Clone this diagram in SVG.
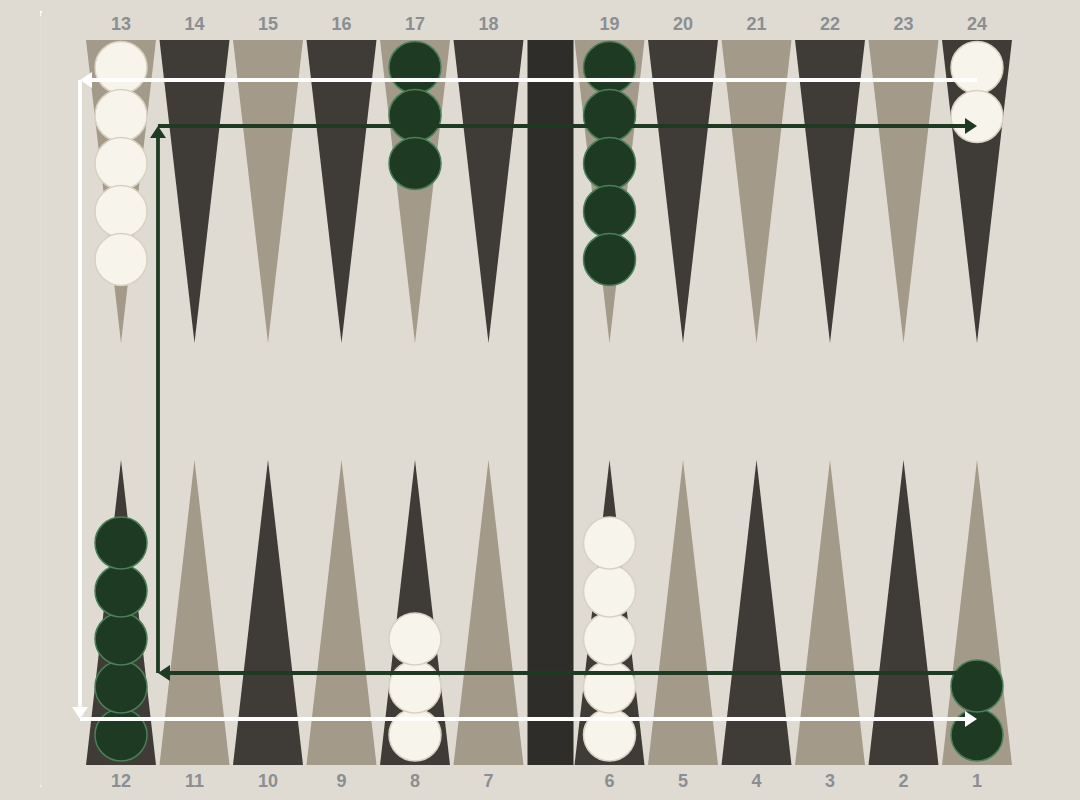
<svg xmlns="http://www.w3.org/2000/svg" width="1080" height="800" viewBox="0 0 1080 800">
  <style>
    .dk{fill:#3f3c37}
    .lt{fill:#a39a8a}
    .bar{fill:#2f2d29}
    .w{fill:#f7f4ec;stroke:#d9d2c3;stroke-width:1.5}
    .g{fill:#1e3a23;stroke:#4b7f59;stroke-width:1.5}
    .num{font-family:"Liberation Sans",Arial,sans-serif;font-weight:bold;font-size:18px;fill:#8b8e93;text-anchor:middle}
    .aw{fill:none;stroke:#ffffff;stroke-width:3.8}
    .ag{fill:none;stroke:#1e3a23;stroke-width:3.8}
  </style>
  <defs>
    <marker id="mw" viewBox="0 0 12 16" refX="6" refY="8" markerWidth="12" markerHeight="16" markerUnits="userSpaceOnUse" orient="auto">
      <path d="M0,0 L12,8 L0,16 Z" fill="#ffffff"/>
    </marker>
    <marker id="mg" viewBox="0 0 12 16" refX="6" refY="8" markerWidth="12" markerHeight="16" markerUnits="userSpaceOnUse" orient="auto">
      <path d="M0,0 L12,8 L0,16 Z" fill="#1e3a23"/>
    </marker>
  </defs>
  <rect x="0" y="0" width="1080" height="800" fill="#dfdbd2"/>
  <line x1="40.5" y1="12" x2="40.5" y2="786" stroke="#e2dfd7" stroke-width="1"/>
  <path d="M40,11 h2 v2 h-1 v3 h-1 z" fill="#ffffff"/>
  <rect x="40" y="785" width="1.2" height="2" fill="#f4f2ec"/>

  <g id="board">
    <rect class="bar" x="527.5" y="40" width="46" height="725"/>
    <g id="top-points">
      <polygon class="lt" points="86,40 156,40 121,343"/>
      <polygon class="dk" points="159.5,40 229.5,40 194.5,343"/>
      <polygon class="lt" points="233,40 303,40 268,343"/>
      <polygon class="dk" points="306.5,40 376.5,40 341.5,343"/>
      <polygon class="lt" points="380,40 450,40 415,343"/>
      <polygon class="dk" points="453.5,40 523.5,40 488.5,343"/>
      <polygon class="lt" points="574.5,40 644.5,40 609.5,343"/>
      <polygon class="dk" points="648,40 718,40 683,343"/>
      <polygon class="lt" points="721.5,40 791.5,40 756.5,343"/>
      <polygon class="dk" points="795,40 865,40 830,343"/>
      <polygon class="lt" points="868.5,40 938.5,40 903.5,343"/>
      <polygon class="dk" points="942,40 1012,40 977,343"/>
    </g>
    <g id="bottom-points">
      <polygon class="dk" points="86,765 156,765 121,460"/>
      <polygon class="lt" points="159.5,765 229.5,765 194.5,460"/>
      <polygon class="dk" points="233,765 303,765 268,460"/>
      <polygon class="lt" points="306.5,765 376.5,765 341.5,460"/>
      <polygon class="dk" points="380,765 450,765 415,460"/>
      <polygon class="lt" points="453.5,765 523.5,765 488.5,460"/>
      <polygon class="dk" points="574.5,765 644.5,765 609.5,460"/>
      <polygon class="lt" points="648,765 718,765 683,460"/>
      <polygon class="dk" points="721.5,765 791.5,765 756.5,460"/>
      <polygon class="lt" points="795,765 865,765 830,460"/>
      <polygon class="dk" points="868.5,765 938.5,765 903.5,460"/>
      <polygon class="lt" points="942,765 1012,765 977,460"/>
    </g>
  </g>

  <g id="labels">
    <text class="num" x="121" y="30">13</text>
    <text class="num" x="194.5" y="30">14</text>
    <text class="num" x="268" y="30">15</text>
    <text class="num" x="341.5" y="30">16</text>
    <text class="num" x="415" y="30">17</text>
    <text class="num" x="488.5" y="30">18</text>
    <text class="num" x="609.5" y="30">19</text>
    <text class="num" x="683" y="30">20</text>
    <text class="num" x="756.5" y="30">21</text>
    <text class="num" x="830" y="30">22</text>
    <text class="num" x="903.5" y="30">23</text>
    <text class="num" x="977" y="30">24</text>
    <text class="num" x="121" y="786.5">12</text>
    <text class="num" x="194.5" y="786.5">11</text>
    <text class="num" x="268" y="786.5">10</text>
    <text class="num" x="341.5" y="786.5">9</text>
    <text class="num" x="415" y="786.5">8</text>
    <text class="num" x="488.5" y="786.5">7</text>
    <text class="num" x="609.5" y="786.5">6</text>
    <text class="num" x="683" y="786.5">5</text>
    <text class="num" x="756.5" y="786.5">4</text>
    <text class="num" x="830" y="786.5">3</text>
    <text class="num" x="903.5" y="786.5">2</text>
    <text class="num" x="977" y="786.5">1</text>
  </g>

  <g id="checkers">
    <g id="p13">
      <circle class="w" cx="121" cy="67.5" r="26"/>
      <circle class="w" cx="121" cy="115.5" r="26"/>
      <circle class="w" cx="121" cy="163.5" r="26"/>
      <circle class="w" cx="121" cy="211.5" r="26"/>
      <circle class="w" cx="121" cy="259.5" r="26"/>
    </g>
    <g id="p17">
      <circle class="g" cx="415" cy="67.5" r="26"/>
      <circle class="g" cx="415" cy="115.5" r="26"/>
      <circle class="g" cx="415" cy="163.5" r="26"/>
    </g>
    <g id="p19">
      <circle class="g" cx="609.5" cy="67.5" r="26"/>
      <circle class="g" cx="609.5" cy="115.5" r="26"/>
      <circle class="g" cx="609.5" cy="163.5" r="26"/>
      <circle class="g" cx="609.5" cy="211.5" r="26"/>
      <circle class="g" cx="609.5" cy="259.5" r="26"/>
    </g>
    <g id="p24">
      <circle class="w" cx="977" cy="67.5" r="26"/>
      <circle class="w" cx="977" cy="116.5" r="26"/>
    </g>
    <g id="p12">
      <circle class="g" cx="121" cy="735" r="26"/>
      <circle class="g" cx="121" cy="687" r="26"/>
      <circle class="g" cx="121" cy="639" r="26"/>
      <circle class="g" cx="121" cy="591" r="26"/>
      <circle class="g" cx="121" cy="543" r="26"/>
    </g>
    <g id="p8">
      <circle class="w" cx="415" cy="735" r="26"/>
      <circle class="w" cx="415" cy="687" r="26"/>
      <circle class="w" cx="415" cy="639" r="26"/>
    </g>
    <g id="p6">
      <circle class="w" cx="609.5" cy="735" r="26"/>
      <circle class="w" cx="609.5" cy="687" r="26"/>
      <circle class="w" cx="609.5" cy="639" r="26"/>
      <circle class="w" cx="609.5" cy="591" r="26"/>
      <circle class="w" cx="609.5" cy="543" r="26"/>
    </g>
    <g id="p1">
      <circle class="g" cx="977" cy="735" r="26"/>
      <circle class="g" cx="977" cy="686" r="26"/>
    </g>
  </g>

  <g id="connectors">
    <path class="aw" d="M977,80 H86" marker-end="url(#mw)"/>
    <path class="aw" d="M80,80 V713" marker-end="url(#mw)"/>
    <path class="aw" d="M80,719 H971" marker-end="url(#mw)"/>
    <path class="ag" d="M977,673 H164" marker-end="url(#mg)"/>
    <path class="ag" d="M158,673 V132" marker-end="url(#mg)"/>
    <path class="ag" d="M158,126 H971" marker-end="url(#mg)"/>
  </g>
</svg>
